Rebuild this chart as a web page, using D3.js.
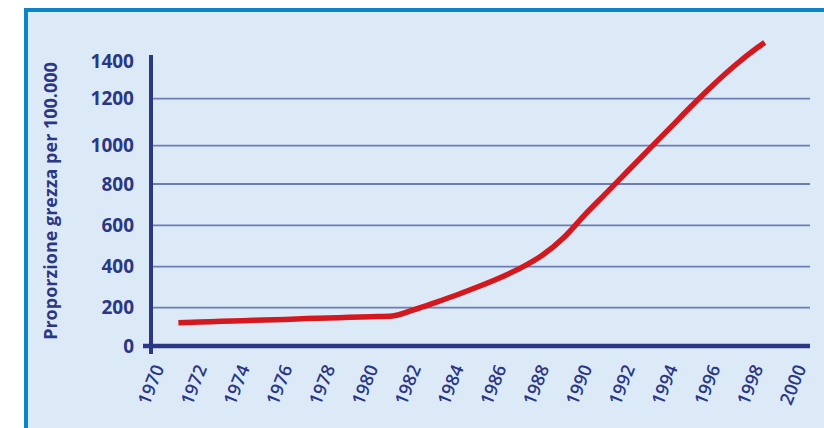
<!DOCTYPE html>
<html>
<head>
<meta charset="utf-8">
<script src="https://cdn.jsdelivr.net/npm/d3@7"></script>
<style>
  body { margin: 0; background: #fff; }
  svg { display: block; font-family: "Open Sans", "DejaVu Sans", sans-serif; }
</style>
</head>
<body>
<svg id="chart" width="824" height="428"></svg>
<script>
// values
var years = [1971, 1972, 1973, 1974, 1975, 1976, 1977, 1978, 1979, 1980,
             1981, 1982, 1983, 1984, 1985, 1986, 1987, 1988, 1989, 1990,
             1991, 1992, 1993, 1994, 1995, 1996, 1997, 1998, 1998.4];
var rates = [122, 125, 129, 132, 136, 139, 143, 146, 150, 153,
             157, 189, 225, 262, 302, 345, 394, 455, 540, 652,
             757, 868, 982, 1078, 1171, 1274, 1376, 1466, 1498];
var yTicks = [0, 200, 400, 600, 800, 1000, 1200, 1400];
var gridTicks = [200, 400, 600, 800, 1000, 1200];
var xTicks = d3.range(1970, 2001, 2);
var yTitle = "Proporzione grezza per 100.000";

var navy = "#2b3784";
var svg = d3.select("#chart");

// panel
svg.append("rect")
  .attr("x", 26).attr("y", 10)
  .attr("width", 820).attr("height", 440)
  .attr("fill", "#dceaf7")
  .attr("stroke", "#0a86c8")
  .attr("stroke-width", 4);

// the printed axis is not evenly spaced, so the scale follows its gridlines
var yPos = [346, 307.7, 266.7, 225.3, 184, 145.7, 98.7, 61];
var y = d3.scaleLinear().domain(yTicks).range(yPos);
var x = d3.scaleLinear().domain([1970, 2000]).range([157, 799]);
var axisX = 151, gridEnd = 810;

// gridlines
svg.append("g")
  .selectAll("line")
  .data(gridTicks)
  .join("line")
  .attr("x1", axisX).attr("x2", gridEnd)
  .attr("y1", d => y(d)).attr("y2", d => y(d))
  .attr("stroke", "#6d7bb6")
  .attr("stroke-width", 1.8);

// y tick labels
var gy = svg.append("g")
  .attr("transform", "translate(134,0)")
  .call(d3.axisLeft(y).tickValues(yTicks).tickFormat(d3.format("d")).tickSize(0).tickPadding(0));
gy.select(".domain").remove();
gy.selectAll("text")
  .attr("fill", navy)
  .attr("font-size", 19)
  .attr("font-weight", 700)
  .attr("font-family", "'Open Sans', sans-serif");

// x tick labels
var gx = svg.append("g")
  .attr("transform", "translate(0," + y(0) + ")")
  .call(d3.axisBottom(x).tickValues(xTicks).tickFormat(d3.format("d")).tickSize(0));
gx.select(".domain").remove();
gx.selectAll("text")
  .attr("y", 0).attr("dy", 0)
  .attr("text-anchor", "end")
  .attr("transform", "translate(7,22) rotate(-68)")
  .attr("fill", navy)
  .attr("font-size", 18)
  .attr("font-weight", 600)
  .attr("font-family", "'Open Sans', sans-serif");

// axis lines
svg.append("line")
  .attr("x1", 143).attr("x2", gridEnd)
  .attr("y1", y(0)).attr("y2", y(0))
  .attr("stroke", navy).attr("stroke-width", 4.5);
svg.append("line")
  .attr("x1", axisX).attr("x2", axisX)
  .attr("y1", 55).attr("y2", 354)
  .attr("stroke", navy).attr("stroke-width", 4);

// y title
svg.append("text")
  .attr("transform", "translate(57,201) rotate(-90)")
  .attr("text-anchor", "middle")
  .attr("fill", navy)
  .attr("font-size", 18)
  .attr("font-weight", 700)
  .text(yTitle);

// data line
var line = d3.line()
  .x((d, i) => x(years[i]))
  .y(d => y(d))
  .curve(d3.curveMonotoneX);

svg.append("path")
  .datum(rates)
  .attr("d", line)
  .attr("fill", "none")
  .attr("stroke", "#d4181f")
  .attr("stroke-width", 5.5);
</script>
</body>
</html>
